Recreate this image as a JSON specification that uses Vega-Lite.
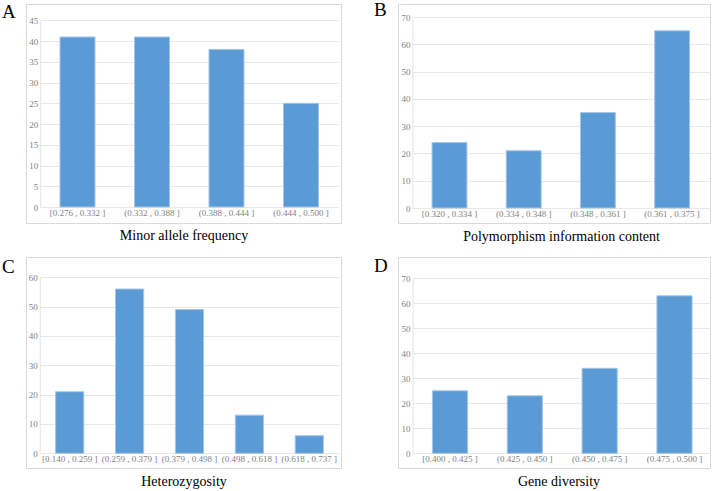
{
  "$schema": "https://vega.github.io/schema/vega-lite/v6.json",
  "padding": {"left": 1, "top": 0, "right": 0, "bottom": 0},
  "background": "white",
  "datasets": {
    "maf": [
      {"bin": "[0.276 , 0.332 ]", "count": 41},
      {"bin": "(0.332 , 0.388 ]", "count": 41},
      {"bin": "(0.388 , 0.444 ]", "count": 38},
      {"bin": "(0.444 , 0.500 ]", "count": 25}
    ],
    "pic": [
      {"bin": "[0.320 , 0.334 ]", "count": 24},
      {"bin": "(0.334 , 0.348 ]", "count": 21},
      {"bin": "(0.348 , 0.361 ]", "count": 35},
      {"bin": "(0.361 , 0.375 ]", "count": 65}
    ],
    "het": [
      {"bin": "[0.140 , 0.259 ]", "count": 21},
      {"bin": "(0.259 , 0.379 ]", "count": 56},
      {"bin": "(0.379 , 0.498 ]", "count": 49},
      {"bin": "(0.498 , 0.618 ]", "count": 13},
      {"bin": "(0.618 , 0.737 ]", "count": 6}
    ],
    "gd": [
      {"bin": "[0.400 , 0.425 ]", "count": 25},
      {"bin": "(0.425 , 0.450 ]", "count": 23},
      {"bin": "(0.450 , 0.475 ]", "count": 34},
      {"bin": "(0.475 , 0.500 ]", "count": 63}
    ]
  },
  "columns": 2,
  "spacing": {"row": 34, "column": 57},
  "bounds": "flush",
  "concat": [
    {
      "title": {"text": "A", "dy": 21.5},
      "width": 315,
      "height": 219,
      "data": {"name": "maf"},
      "mark": {"type": "bar", "color": "#5B9BD5", "stroke": "#a4c5e8", "strokeWidth": 1},
      "encoding": {
        "x": {
          "field": "bin", "type": "nominal", "sort": null,
          "scale": {"range": [14.25, 312.25], "paddingInner": 0.53, "paddingOuter": 0.265},
          "axis": {"title": "Minor allele frequency", "offset": -16, "titleX": 157.5}
        },
        "y": {
          "field": "count", "type": "quantitative",
          "scale": {"domain": [0, 45], "range": [203, 16.4], "nice": false},
          "axis": {"values": [0, 5, 10, 15, 20, 25, 30, 35, 40, 45], "offset": -14.25}
        }
      }
    },
    {
      "title": {"text": "B", "dy": 19.5},
      "width": 312,
      "height": 219,
      "data": {"name": "pic"},
      "mark": {"type": "bar", "color": "#5B9BD5", "stroke": "#a4c5e8", "strokeWidth": 1},
      "encoding": {
        "x": {
          "field": "bin", "type": "nominal", "sort": null,
          "scale": {"range": [14.4, 311.2], "paddingInner": 0.53, "paddingOuter": 0.265},
          "axis": {"title": "Polymorphism information content", "offset": -15, "titleX": 163}
        },
        "y": {
          "field": "count", "type": "quantitative",
          "scale": {"domain": [0, 70], "range": [204, 13.2], "nice": false},
          "axis": {"values": [0, 10, 20, 30, 40, 50, 60, 70], "offset": -14.4}
        }
      }
    },
    {
      "title": {"text": "C", "dy": 24},
      "width": 315,
      "height": 211,
      "data": {"name": "het"},
      "mark": {"type": "bar", "color": "#5B9BD5", "stroke": "#a4c5e8", "strokeWidth": 1},
      "encoding": {
        "x": {
          "field": "bin", "type": "nominal", "sort": null,
          "scale": {"range": [13.75, 313.25], "paddingInner": 0.53, "paddingOuter": 0.265},
          "axis": {"title": "Heterozygosity", "offset": -14.7, "titleX": 157.5}
        },
        "y": {
          "field": "count", "type": "quantitative",
          "scale": {"domain": [0, 60], "range": [196.3, 20.3], "nice": false},
          "axis": {"values": [0, 10, 20, 30, 40, 50, 60], "offset": -13.75}
        }
      }
    },
    {
      "title": {"text": "D", "dy": 22.5},
      "width": 312,
      "height": 211,
      "data": {"name": "gd"},
      "mark": {"type": "bar", "color": "#5B9BD5", "stroke": "#a4c5e8", "strokeWidth": 1},
      "encoding": {
        "x": {
          "field": "bin", "type": "nominal", "sort": null,
          "scale": {"range": [14.6, 313.9], "paddingInner": 0.53, "paddingOuter": 0.265},
          "axis": {"title": "Gene diversity", "offset": -14.7, "titleX": 160.5}
        },
        "y": {
          "field": "count", "type": "quantitative",
          "scale": {"domain": [0, 70], "range": [196.3, 21.3], "nice": false},
          "axis": {"values": [0, 10, 20, 30, 40, 50, 60, 70], "offset": -14.6}
        }
      }
    }
  ],
  "config": {
    "font": "Liberation Serif",
    "view": {"stroke": "#d9d9d9", "strokeWidth": 1},
    "title": {
      "anchor": "start", "frame": "group", "orient": "top", "offset": 0,
      "dx": -24, "baseline": "alphabetic",
      "font": "Liberation Serif", "fontSize": 19, "fontWeight": "normal", "color": "#000000"
    },
    "axisX": {
      "labelAngle": 0, "labelFont": "Liberation Serif", "labelFontSize": 9, "labelColor": "#7f7f7f",
      "labelPadding": 1.5, "ticks": false, "tickSize": 0, "domain": false, "grid": false,
      "titleFont": "Liberation Serif", "titleFontSize": 14, "titleFontWeight": "normal",
      "titleColor": "#000000", "titlePadding": 11
    },
    "axisY": {
      "title": null, "labelFont": "Liberation Serif", "labelFontSize": 9, "labelColor": "#7f7f7f",
      "labelPadding": 2.5, "ticks": false, "tickSize": 0,
      "domain": true, "domainColor": "#e3e3e3", "domainWidth": 1,
      "grid": true, "gridColor": "#e8e8e8", "gridWidth": 1
    }
  }
}
